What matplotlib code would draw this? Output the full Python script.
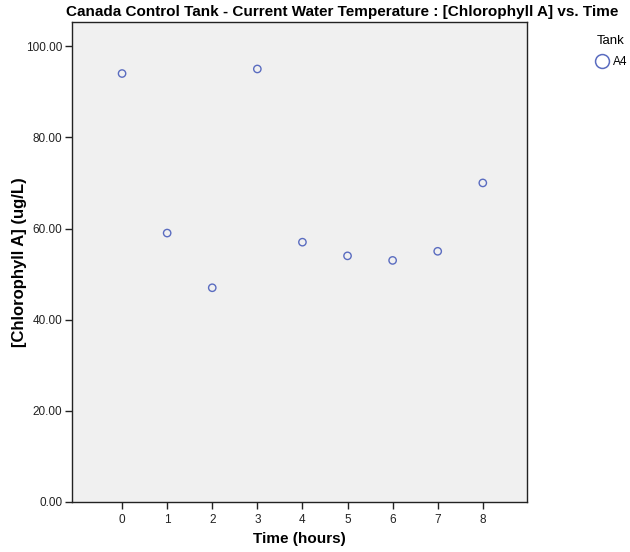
import matplotlib.pyplot as plt
from matplotlib.lines import Line2D
from matplotlib.ticker import FormatStrFormatter

hours = [0, 1, 2, 3, 4, 5, 6, 7, 8]
chlorophyll = [94, 59, 47, 95, 57, 54, 53, 55, 70]
y_ticks = [0, 20, 40, 60, 80, 100]

title = 'Canada Control Tank - Current Water Temperature : [Chlorophyll A] vs. Time'
fonts = ['Liberation Sans Narrow', 'Liberation Sans', 'DejaVu Sans']
plt.rcParams['font.family'] = ['Liberation Sans', 'DejaVu Sans']

fig = plt.figure(figsize=(6.3, 5.52), dpi=100)
ax = fig.add_axes([0.1143, 0.0906, 0.7222, 0.8695])
ax.set_facecolor('#f0f0f0')

ax.scatter(hours, chlorophyll, s=28, facecolors='none', edgecolors='#5a6cc0', linewidths=1.0, zorder=3)

ax.set_xlim(-1.11, 8.98)
ax.set_ylim(0, 105.3)
ax.set_xticks(hours)
ax.set_yticks(y_ticks)
ax.yaxis.set_major_formatter(FormatStrFormatter('%.2f'))
ax.tick_params(direction='out', length=5, width=1, labelsize=8.5, colors='#222222', pad=2)
ax.tick_params(axis='x', pad=4)
for s in ax.spines.values():
    s.set_color('#222222')
    s.set_linewidth(1.0)

ax.set_xlabel('Time (hours)', fontsize=11, fontweight='bold', family=fonts, labelpad=4)
ax.set_ylabel('[Chlorophyll A] (ug/L)', fontsize=12, fontweight='bold', family=fonts, labelpad=-1)
fig.text(0.543, 0.978, title, ha='center', va='center', fontsize=11, fontweight='bold', family=fonts)

# legend on the right
fig.text(0.948, 0.926, 'Tank', ha='left', va='center', fontsize=9.5)
handle = Line2D([], [], marker='o', linestyle='none', markersize=10, markerfacecolor='none',
                markeredgecolor='#5a6cc0', markeredgewidth=1.1)
fig.legend([handle], ['A4'], loc='center left', bbox_to_anchor=(0.935, 0.887), frameon=False,
           fontsize=8.5, handletextpad=0.3, borderpad=0, handlelength=1.2)

fig.savefig('out.png', dpi=100)
